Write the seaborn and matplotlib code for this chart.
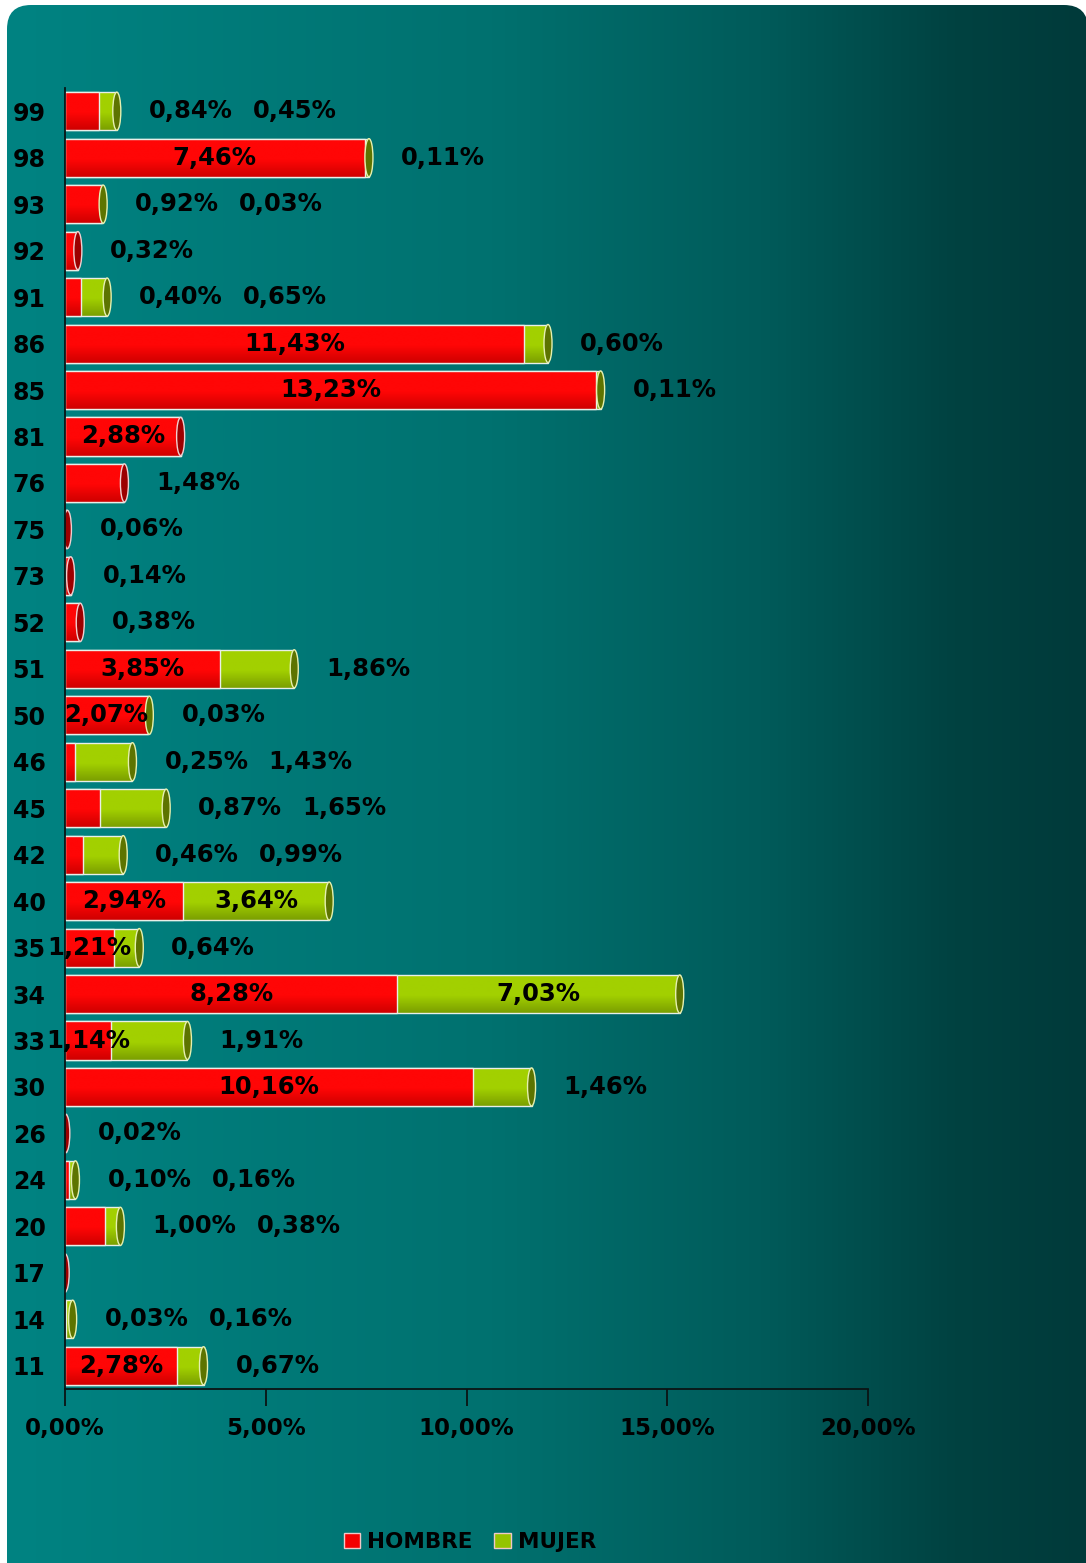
import numpy as np
import pandas as pd
import matplotlib
matplotlib.use("Agg")
import matplotlib.pyplot as plt
import seaborn as sns
from matplotlib.colors import LinearSegmentedColormap
from matplotlib.patches import FancyBboxPatch, Ellipse, Rectangle

# ---------------- data ----------------
categories = ["99", "98", "93", "92", "91", "86", "85", "81", "76", "75", "73", "52",
              "51", "50", "46", "45", "42", "40", "35", "34", "33", "30", "26", "24",
              "20", "17", "14", "11"]
hombre = [0.84, 7.46, 0.92, 0.32, 0.40, 11.43, 13.23, 2.88, 1.48, 0.06, 0.14, 0.38,
          3.85, 2.07, 0.25, 0.87, 0.46, 2.94, 1.21, 8.28, 1.14, 10.16, 0.02, 0.10,
          1.00, 0.004, 0.03, 2.78]
mujer = [0.45, 0.11, 0.03, 0.0, 0.65, 0.60, 0.11, 0.0, 0.0, 0.0, 0.0, 0.0,
         1.86, 0.03, 1.43, 1.65, 0.99, 3.64, 0.64, 7.03, 1.91, 1.46, 0.0, 0.16,
         0.38, 0.0, 0.16, 0.67]
series_names = ["HOMBRE", "MUJER"]
x_ticks = [0, 5, 10, 15, 20]

df = pd.DataFrame({"cat": categories, "hombre": hombre, "mujer": mujer})
df["total"] = df["hombre"] + df["mujer"]

W, H = 1086, 1563
DPI = 100
sns.set_theme(style="white")
plt.rcParams["font.family"] = ["DejaVu Sans"]
plt.rcParams["font.weight"] = "bold"

fig = plt.figure(figsize=(W / DPI, H / DPI), dpi=DPI)
fig.patch.set_facecolor("white")

# ---------------- background ----------------
bg = fig.add_axes([0, 0, 1, 1], zorder=-5)
bg.set_xlim(0, W)
bg.set_ylim(0, H)
bg.axis("off")
cmap_bg = LinearSegmentedColormap.from_list(
    "bg", [(0.0, "#008382"), (0.45, "#00716f"), (0.7, "#005b5a"), (0.88, "#004241"), (1.0, "#003a3a")])
grad = np.linspace(0, 1, 512)[None, :]
im = bg.imshow(grad, cmap=cmap_bg, extent=(7, W, 0, H - 5), aspect="auto", origin="lower")
box = FancyBboxPatch((7, -40), W - 7 + 2, H - 5 + 40, boxstyle="round,pad=0,rounding_size=24",
                     transform=bg.transData, facecolor="none", edgecolor="none")
bg.add_patch(box)
im.set_clip_path(box)

# ---------------- main axes ----------------
ax = fig.add_axes([65 / W, (H - 1389) / H, (868 - 65) / W, (1389 - 88) / H])
ax.set_facecolor("none")

RED = "#f40000"
GREEN = "#94c400"
BW = 0.82

sns.barplot(data=df, x="total", y="cat", order=categories, orient="h", color=GREEN,
            saturation=1, width=BW, ax=ax, label=series_names[1], edgecolor="none")
n_green = len(ax.patches)
sns.barplot(data=df, x="hombre", y="cat", order=categories, orient="h", color=RED,
            saturation=1, width=BW, ax=ax, label=series_names[0], edgecolor="none")
if ax.get_legend() is not None:
    ax.get_legend().remove()

green_patches = ax.patches[:n_green]
red_patches = ax.patches[n_green:]

def shade(patch, top, bottom, z):
    x0, y0 = patch.get_x(), patch.get_y()
    w, h = patch.get_width(), patch.get_height()
    cm = LinearSegmentedColormap.from_list("g", [(0, top), (0.55, top), (1, bottom)])
    g = np.linspace(0, 1, 64)[:, None]
    img = ax.imshow(g, cmap=cm, extent=(x0, x0 + w, y0 + h, y0), origin="upper",
                    aspect="auto", zorder=z, interpolation="bilinear")
    img.set_clip_path(patch)
    patch.set_zorder(z - 0.05)
    if w > 0:
        ax.add_patch(Rectangle((x0, y0), w, h, fill=False, edgecolor="#e8efe8",
                               lw=1.0, zorder=z + 0.05))

for p in green_patches:
    shade(p, "#a2d000", "#7b9f00", 1.1)
for p in red_patches:
    shade(p, "#ff0606", "#cf0000", 1.3)

# cylinder end caps
cap_w = 0.2
for i, p in enumerate(green_patches):
    tot = df["total"].iloc[i]
    yc = p.get_y() + p.get_height() / 2
    if df["mujer"].iloc[i] > 0:
        fc, ec = "#5d7400", "#e6f0b0"
    else:
        fc, ec = "#9c0000", "#f0d0d0"
    ax.add_patch(Ellipse((tot, yc), cap_w, p.get_height(), facecolor=fc, edgecolor=ec,
                         lw=1.0, zorder=1.6))

ax.set_xlim(0, 20)
ax.set_ylim(len(categories) - 0.5, -0.5)

# ---------------- data labels ----------------
def fmt(v):
    return f"{v:.2f}".replace(".", ",") + "%"

LBL = dict(fontsize=17.5, fontweight="bold", color="black", ha="center", va="center", zorder=5)
for i, cat in enumerate(categories):
    h = df["hombre"].iloc[i]
    m = df["mujer"].iloc[i]
    tot = h + m
    yc = i
    offs = 74
    red_inside = (h >= 2.0) or (h >= 1.1 and m > 0)
    if round(h, 2) > 0:
        if red_inside:
            ax.text(h / 2, yc, fmt(h), **LBL)
        else:
            ax.annotate(fmt(h), xy=(tot, yc), xytext=(offs, 0), textcoords="offset pixels", **LBL)
            offs += 104
    if round(m, 2) > 0:
        if m >= 2.0:
            ax.text(h + m / 2, yc, fmt(m), **LBL)
        else:
            ax.annotate(fmt(m), xy=(tot, yc), xytext=(offs, 0), textcoords="offset pixels", **LBL)

# ---------------- axes styling ----------------
for s in ["top", "right"]:
    ax.spines[s].set_visible(False)
for s in ["left", "bottom"]:
    ax.spines[s].set_color("#0a1414")
    ax.spines[s].set_linewidth(1.3)

ax.set_xlabel("")
ax.set_ylabel("")
ax.set_xticks(x_ticks)
ax.set_xticklabels([f"{t:.2f}".replace(".", ",") + "%" for t in x_ticks])
ax.tick_params(axis="x", which="major", direction="out", length=12, width=1.3,
               color="#0a1414", pad=8, labelsize=16.5, labelcolor="black")
ax.set_yticks(range(len(categories)))
ax.set_yticklabels(categories)
ax.set_yticks(np.arange(-0.5, len(categories) + 0.5, 1), minor=True)
ax.tick_params(axis="y", which="major", length=0, pad=14, labelsize=17, labelcolor="black")
ax.tick_params(axis="y", which="minor", direction="out", length=14, width=1.3, color="#0a1414")
ax.tick_params(left=True, bottom=True)
for lbl in ax.get_xticklabels() + ax.get_yticklabels():
    lbl.set_fontweight("bold")

# ---------------- legend ----------------
handles, labels = ax.get_legend_handles_labels()
order = [labels.index(n) for n in series_names]
leg = fig.legend([handles[k] for k in order], [labels[k] for k in order],
                 loc="center", bbox_to_anchor=(470 / W, 1 - 1542 / H), ncol=2, frameon=False,
                 handlelength=0.75, handleheight=0.75, handletextpad=0.35, columnspacing=1.0,
                 prop={"weight": "bold", "size": 15.5})
for t in leg.get_texts():
    t.set_color("black")
for hnd in leg.legend_handles:
    hnd.set_edgecolor("#f0c8c8")
    hnd.set_linewidth(1.0)

fig.savefig("out.png", dpi=DPI, facecolor="white")
